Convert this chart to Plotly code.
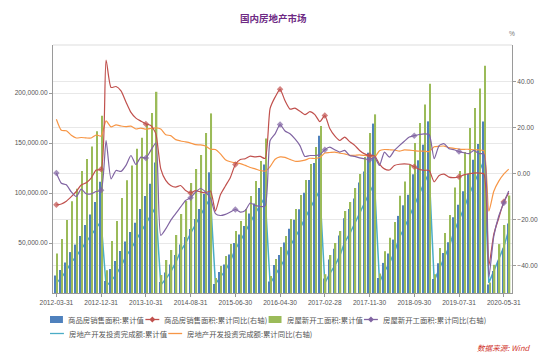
import pandas as pd
import plotly.graph_objects as go

# ---- categories: month-end dates (Jan-Feb are reported together, so January is absent)
dates = [d for d in pd.date_range("2012-03-31", "2020-06-30", freq="ME") if d.month != 1]
categories = [d.strftime("%Y-%m-%d") for d in dates]
tick_labels = ["2012-03-31", "2012-12-31", "2013-10-31", "2014-08-31", "2015-06-30", "2016-04-30",
               "2017-02-28", "2017-11-30", "2018-09-30", "2019-07-31", "2020-05-31"]

# ---- left axis series
sales_area_cum = [
    17500, 23000, 30500, 40900, 48400, 57000, 68000, 78500, 91000, 111300,
    12000, 24000, 32000, 42000, 51500, 61000, 70300, 84000, 97000, 109300, 130550,
    11000, 20500, 28500, 38000, 48400, 56000, 64000, 74000, 84000, 99000, 120650,
    9000, 21000, 28500, 38500, 50000, 58500, 67000, 79500, 89500, 105000, 128500,
    11500, 27900, 38000, 50500, 64300, 73300, 83800, 100300, 113000, 130000, 157350,
    14400, 33400, 44200, 57600, 74700, 84100, 94400, 110600, 121500, 140300, 169400,
    15000, 30100, 39500, 53400, 77100, 87700, 98200, 118700, 132700, 148300, 171650,
    14100, 29800, 39900, 50800, 75800, 88200, 101800, 119200, 133300, 148900, 171560,
    8500, 22000, 32200, 44500, 69400]
new_start_cum = [
    39500, 54000, 73000, 91700, 104300, 122000, 134000, 146500, 161700, 177300,
    22700, 52000, 72000, 95000, 112700, 127600, 144300, 155300, 169000, 180000, 201200,
    18000, 33000, 43000, 58000, 79000, 92000, 110000, 124000, 138000, 160000, 179600,
    15000, 27000, 37000, 49000, 62000, 72000, 84000, 97000, 112000, 132000, 154450,
    17000, 34000, 46000, 57000, 74000, 84000, 98000, 113000, 129000, 146000, 166900,
    18800, 38000, 50000, 62000, 82000, 91000, 105000, 119000, 136000, 160000, 178650,
    19500, 41800, 55200, 71100, 97200, 111600, 128000, 150000, 170000, 188500, 209350,
    18800, 45000, 60000, 78000, 105500, 122000, 141000, 165000, 185000, 204500, 227150,
    10400, 28200, 48900, 68000, 97500]
invest_cum = [
    10050, 15200, 22400, 30600, 36700, 44300, 51000, 57900, 64500, 71800,
    6800, 11900, 18300, 26700, 36800, 43900, 52600, 61100, 68900, 77100, 86000,
    8100, 13900, 21100, 30300, 42000, 49900, 59500, 68800, 78000, 86800, 95000,
    8800, 16100, 22400, 31800, 44000, 52000, 61600, 70500, 79600, 87900, 96000,
    9300, 17700, 24800, 34000, 46600, 54700, 64200, 74600, 84900, 93600, 102600,
    9900, 19300, 27100, 36900, 50600, 59000, 69300, 80600, 91500, 100400, 109800,
    10900, 21300, 29900, 40600, 55500, 65000, 76500, 88900, 99300, 110100, 120300,
    12100, 23800, 34200, 46100, 61600, 72800, 84600, 98000, 109600, 121300, 132200,
    10100, 22000, 33100, 45900, 62800]

# ---- right axis series (%)
sales_area_yoy = [
    -13.6, -13.2, -12.0, -10.0, -7.8, -5.0, -4.0, -2.0, 1.5, 1.8,
    49.2, 37.3, 37.7, 35.8, 31.0, 26.5, 24.0, 22.7, 21.5, 20.8, 17.3,
    2.0, -3.0, -5.2, -5.9, -5.2, -7.4, -8.4, -7.4, -8.0, -8.4, -7.6,
    -16.3, -9.2, -5.4, -1.7, 3.9, 6.1, 6.4, 7.5, 7.2, 7.4, 6.5,
    28.2, 33.1, 36.5, 31.5, 27.9, 28.3, 27.0, 25.5, 26.8, 25.5, 22.5,
    25.1, 19.5, 16.3, 14.3, 15.8, 13.8, 12.2, 10.0, 8.5, 7.8, 7.7,
    4.1, 2.0, 1.5, 3.5, 4.0, 4.2, 4.0, 2.9, 1.8, 1.4, 1.3,
    -3.6, -0.9, -0.3, -1.6, -1.8, -1.4, -0.6, -0.1, 0.2, 0.2, -0.1,
    -39.9, -26.3, -19.3, -12.3, -8.4]
new_start_yoy = [
    0.2, -4.2, -4.9, -8.0, -10.0, -6.8, -8.8, -8.8, -7.8, -7.3,
    14.3, -2.3, 1.3, 0.9, 3.5, 7.8, 3.9, 7.1, 6.7, 10.0, 13.2,
    -26.8, -24.0, -20.3, -17.4, -14.5, -11.7, -10.5, -8.1, -6.5, -8.0, -10.7,
    -17.4, -18.2, -17.7, -16.7, -15.6, -16.7, -16.0, -12.8, -13.8, -14.3, -14.0,
    14.3, 17.2, 21.2, 18.4, 17.2, 15.0, 12.1, 7.4, 7.8, 7.8, 8.1,
    10.3, 11.4, 10.3, 9.3, 10.0, 7.8, 7.4, 6.8, 6.4, 6.0, 7.0,
    3.5, 9.3, 7.1, 10.0, 12.1, 14.0, 15.8, 16.4, 16.9, 17.2, 16.9,
    6.4, 12.1, 12.9, 10.7, 10.3, 9.5, 9.0, 8.6, 10.0, 8.6, 8.5,
    -44.9, -27.2, -18.4, -12.8, -7.6]
invest_yoy = [
    23.5, 18.7, 18.5, 16.6, 15.4, 15.6, 15.4, 15.4, 16.7, 16.2,
    22.8, 20.2, 21.1, 20.6, 20.3, 20.5, 19.3, 19.7, 19.2, 19.5, 19.8,
    19.3, 16.8, 16.4, 14.7, 14.1, 13.7, 13.2, 12.5, 12.4, 11.9, 10.5,
    10.4, 8.5, 6.0, 5.1, 4.6, 4.3, 3.5, 2.6, 2.0, 1.3, 1.0,
    3.0, 6.2, 7.2, 7.0, 6.1, 5.3, 5.4, 5.8, 6.6, 6.5, 6.9,
    8.9, 9.1, 9.3, 8.8, 8.5, 7.9, 7.9, 8.1, 7.8, 7.5, 7.0,
    9.9, 10.4, 10.3, 10.2, 9.7, 10.2, 10.1, 9.9, 9.7, 9.7, 9.5,
    11.6, 11.8, 11.9, 11.2, 10.9, 10.6, 10.5, 10.5, 10.3, 10.2, 9.9,
    -16.3, -7.7, -3.3, -0.3, 1.9]

names = ["商品房销售面积:累计值", "商品房销售面积:累计同比(右轴)", "房屋新开工面积:累计值",
         "房屋新开工面积:累计同比(右轴)", "房地产开发投资完成额:累计值", "房地产开发投资完成额:累计同比(右轴)"]
C_BLUE, C_RED, C_GREEN, C_PURPLE, C_CYAN, C_ORANGE = "#4F81BD", "#C0504D", "#9BBB59", "#8064A2", "#4BACC6", "#F79646"

W, H, L, R, T, B = 550, 357, 53, 35, 45, 64
FONT = "Noto Sans CJK SC, Noto Sans, Arial"
marker_sizes = [5 if c in tick_labels else 0 for c in categories]

fig = go.Figure()
# bottom layer: investment cumulative line (partly hidden behind bars)
fig.add_trace(go.Scatter(x=categories, y=invest_cum, mode="lines", line=dict(color=C_CYAN, width=1.5),
                         yaxis="y", showlegend=False))
# middle layer: bars
fig.add_trace(go.Bar(x=categories, y=sales_area_cum, marker=dict(color=C_BLUE, line_width=0), yaxis="y2",
                     showlegend=False))
fig.add_trace(go.Bar(x=categories, y=new_start_cum, marker=dict(color=C_GREEN, line_width=0), yaxis="y2",
                     showlegend=False))
# top layer: percentage lines
fig.add_trace(go.Scatter(x=categories, y=invest_yoy, mode="lines", yaxis="y3", showlegend=False,
                         line=dict(color=C_ORANGE, width=1.2, shape="spline", smoothing=0.6)))
fig.add_trace(go.Scatter(x=categories, y=sales_area_yoy, mode="lines+markers", yaxis="y3", showlegend=False,
                         line=dict(color=C_RED, width=1.2, shape="spline", smoothing=0.6),
                         marker=dict(symbol="diamond", size=marker_sizes, color=C_RED, line_width=0)))
fig.add_trace(go.Scatter(x=categories, y=new_start_yoy, mode="lines+markers", yaxis="y3", showlegend=False,
                         line=dict(color=C_PURPLE, width=1.2, shape="spline", smoothing=0.6),
                         marker=dict(symbol="diamond", size=marker_sizes, color=C_PURPLE, line_width=0)))

tickfont = dict(family="Arial, Liberation Sans", size=6.6, color="#555555")
fig.update_layout(
    width=W, height=H, margin=dict(l=L, r=R, t=T, b=B),
    paper_bgcolor="white", plot_bgcolor="white",
    barmode="group", bargap=0.3, bargroupgap=0.2,
    showlegend=False,
    xaxis=dict(type="category", range=[-0.68, 91.66], tickmode="array", tickvals=tick_labels,
               ticktext=tick_labels, tickangle=0, tickfont=tickfont, showgrid=False,
               showline=True, linecolor="#9a9a9a", linewidth=1, ticks="outside", ticklen=3,
               tickcolor="#9a9a9a"),
    yaxis=dict(range=[0, 248000], tickvals=[50000, 100000, 150000, 200000], tickformat=",.2f",
               tickfont=tickfont, showgrid=True, gridcolor="#e8e8e8", gridwidth=1, zeroline=False,
               showline=True, linecolor="#9a9a9a", linewidth=1, ticks="outside", ticklen=3,
               tickcolor="#9a9a9a"),
    yaxis2=dict(range=[0, 248000], overlaying="y", visible=False),
    yaxis3=dict(range=[-51.8, 55.7], overlaying="y", side="right", tickvals=[-40, -20, 0, 20, 40],
                tickformat=".2f", tickfont=tickfont, showgrid=True, gridcolor="#e8e8e8", zeroline=False,
                showline=True, linecolor="#9a9a9a", linewidth=1, ticks="outside", ticklen=3,
                tickcolor="#9a9a9a"),
)

pw, ph = W - L - R, H - T - B
def px(xp):
    return (xp - L) / pw
def py(yp):
    return (H - B - yp) / ph

shapes = [dict(type="line", xref="paper", yref="paper", x0=0, x1=1, y0=1, y1=1,
               line=dict(color="#dddddd", width=1))]
annotations = [
    dict(text="<b>国内房地产市场</b>", x=px(275), y=py(18), xref="paper", yref="paper", showarrow=False,
         xanchor="center", yanchor="middle", font=dict(family=FONT, size=9.5, color="#6E2A84")),
    dict(text="%", x=px(515), y=py(33), xref="paper", yref="paper", showarrow=False,
         xanchor="center", yanchor="middle", font=dict(family="Arial", size=6.6, color="#777777")),
    dict(text="<i>数据来源: Wind</i>", x=px(536), y=py(347), xref="paper", yref="paper", showarrow=False,
         xanchor="right", yanchor="middle", font=dict(family=FONT, size=7.6, color="#D0342C")),
]

def legend_rect(x0, y, color, text):
    shapes.append(dict(type="rect", xref="paper", yref="paper", x0=px(x0), x1=px(x0 + 13),
                       y0=py(y + 3.5), y1=py(y - 3.5), fillcolor=color, line_width=0))
    annotations.append(dict(text=text, x=px(x0 + 16.5), y=py(y), xref="paper", yref="paper",
                            showarrow=False, xanchor="left", yanchor="middle",
                            font=dict(family=FONT, size=7.4, color="#555555")))

def legend_line(x0, y, color, text, diamond):
    shapes.append(dict(type="line", xref="paper", yref="paper", x0=px(x0), x1=px(x0 + 14),
                       y0=py(y), y1=py(y), line=dict(color=color, width=1.3)))
    if diamond:
        cx, d = x0 + 7, 3
        path = (f"M {px(cx)},{py(y - d)} L {px(cx + d)},{py(y)} L {px(cx)},{py(y + d)} "
                f"L {px(cx - d)},{py(y)} Z")
        shapes.append(dict(type="path", xref="paper", yref="paper", path=path, fillcolor=color, line_width=0))
    annotations.append(dict(text=text, x=px(x0 + 17), y=py(y), xref="paper", yref="paper",
                            showarrow=False, xanchor="left", yanchor="middle",
                            font=dict(family=FONT, size=7.4, color="#555555")))

legend_rect(50, 319.5, C_BLUE, names[0])
legend_line(146, 319.5, C_RED, names[1], True)
legend_rect(270, 319.5, C_GREEN, names[2])
legend_line(366, 319.5, C_PURPLE, names[3], True)
legend_line(50, 333.5, C_CYAN, names[4], False)
legend_line(169, 333.5, C_ORANGE, names[5], False)

fig.update_layout(shapes=shapes, annotations=annotations)
fig.write_html("out.html", config={"displayModeBar": False},
               post_script="document.body.style.margin='0px';")
